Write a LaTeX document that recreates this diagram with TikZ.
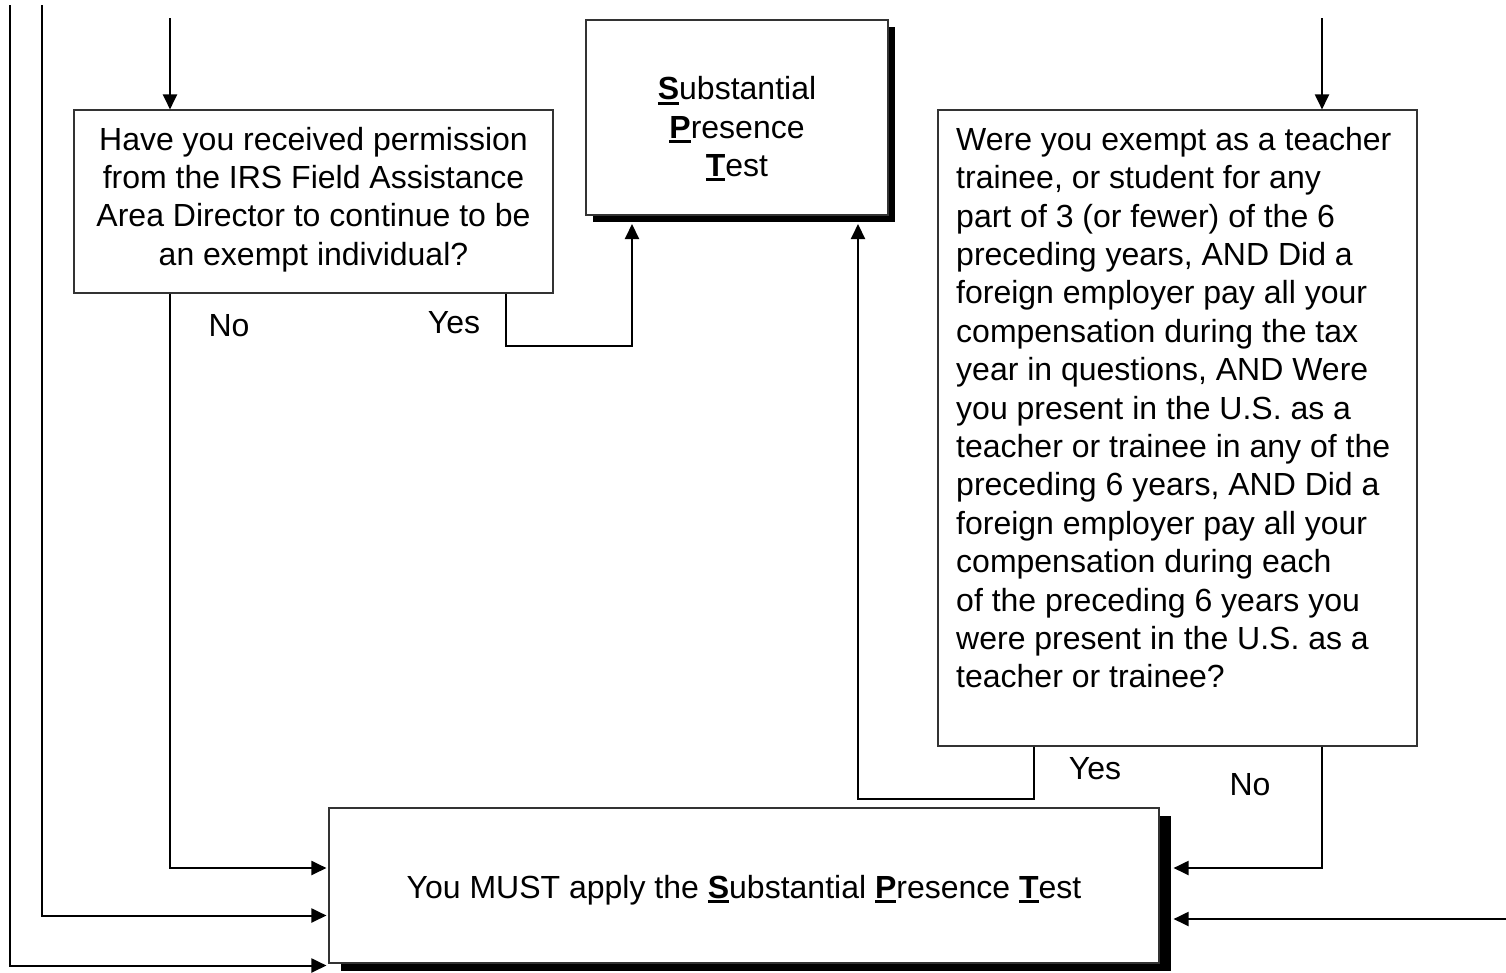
\documentclass[tikz,border=0pt]{standalone}
\usepackage{fontspec}
\setmainfont{Liberation Sans}
\usetikzlibrary{arrows.meta,shadows}
\newcommand{\uletter}[1]{\setbox0\hbox{\textbf{#1}}\rlap{\rule[-5pt]{\wd0}{3pt}}\box0}
\begin{document}
\begin{tikzpicture}[x=1pt,y=-1pt,
  txt/.style={font=\fontsize{32}{38.4}\selectfont, inner sep=0pt},
  box/.style={draw=black!80, line width=1.1pt, fill=white, inner sep=0pt},
  conn/.style={draw=black, line width=2pt},
  arr/.style={conn, -{Triangle[length=15pt,width=14pt]}},
  lbl/.style={txt, anchor=center}]
\useasboundingbox (0,0) rectangle (1506,972);
% boxes
\node[box, minimum width=479pt, minimum height=183pt] (q1) at (313.5,201.5) {};
\node[box, minimum width=302pt, minimum height=195pt,
  drop shadow={shadow xshift=7pt, shadow yshift=-7pt, opacity=1, fill=black}] (spt) at (737,117.5) {};
\node[box, minimum width=479pt, minimum height=636pt] (q2) at (1177.5,428) {};
\node[box, minimum width=830pt, minimum height=155pt,
  drop shadow={shadow xshift=12pt, shadow yshift=-8pt, opacity=1, fill=black}] (bot) at (744,885.5) {};
% texts
\node[txt, align=center] (q1t) at (313.5,199.5) {Have you received permission\\from the IRS Field Assistance\\Area Director to continue to be\\an exempt individual?};
\node[txt, align=center] (sptt) at (737,129) {\uletter{S}ubstantial\\\uletter{P}resence\\\uletter{T}est};
\node[txt, align=left, anchor=north west] (q2t) at (956,127) {Were you exempt as a teacher\\trainee, or student for any\\part of 3 (or fewer) of the 6\\preceding years, AND Did a\\foreign employer pay all your\\compensation during the tax\\year in questions, AND Were\\you present in the U.S. as a\\teacher or trainee in any of the\\preceding 6 years, AND Did a\\foreign employer pay all your\\compensation during each\\of the preceding 6 years you\\were present in the U.S. as a\\teacher or trainee?};
\node[txt] (bott) at (744,890) {You MUST apply the \uletter{S}ubstantial \uletter{P}resence \uletter{T}est};
% labels
\node[lbl] (no1) at (229,326) {No};
\node[lbl] (yes1) at (454,323) {Yes};
\node[lbl] (yes2) at (1095,769) {Yes};
\node[lbl] (no2) at (1250,785) {No};
% free ends
\coordinate (in1) at (170,18);
\coordinate (in2) at (1322,18);
\coordinate (L1) at (10,5);
\coordinate (L2) at (42,5);
\coordinate (R2) at (1506,919);
\coordinate (y1turn) at (506,346);
\coordinate (y1tip) at (632,224);
\coordinate (y2turn) at (858,799);
\coordinate (y2tip) at (858,224);
% connectors
\draw[arr] (in1) -- (in1 |- q1.north);
\draw[arr] (in2) -- (in2 |- q2.north);
\draw[arr] (L1) |- ([shift={(-2,80)}]bot.west);
\draw[arr] (L2) |- ([shift={(-2,30)}]bot.west);
\draw[arr] (q1.south -| in1) |- ([shift={(-2,-17.5)}]bot.west);
\draw[arr] (q1.south -| y1turn) |- (y1tip |- y1turn) -- (y1tip);
\draw[arr] (q2.south -| 1034,0) |- (y2turn) -- (y2tip);
\draw[arr] (q2.south -| in2) |- ([shift={(14,-17.5)}]bot.east);
\draw[arr] (R2) -- ([shift={(14,33.5)}]bot.east);
\end{tikzpicture}
\end{document}
